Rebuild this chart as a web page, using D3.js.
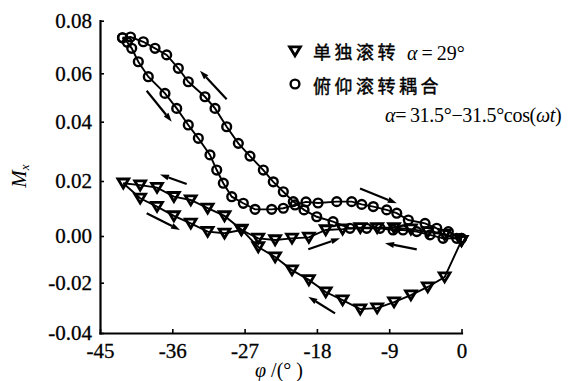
<!DOCTYPE html>
<html>
<head>
<meta charset="utf-8">
<script src="https://cdn.jsdelivr.net/npm/d3@7"></script>
<style>
  html, body { margin: 0; padding: 0; background: #fff; }
  svg { display: block; }
  .serif { font-family: "Liberation Serif", "DejaVu Serif", serif; }
  .cjk { font-family: "Noto Sans CJK SC", sans-serif; }
</style>
</head>
<body>
<svg id="chart" width="579" height="381"></svg>
<script>
// tick values
const xTicks = [-45, -36, -27, -18, -9, 0];
const yTicks = [-0.04, -0.02, 0, 0.02, 0.04, 0.06, 0.08];

// single roll, alpha = 29 deg (triangles): same phi grid, two branches of the loop
const rollPhi   = [-42.1, -40.0, -37.9, -35.8, -33.7, -31.6, -29.5, -27.4, -25.3, -23.2, -21.1,
                   -19.0, -16.9, -14.8, -12.6, -10.5, -8.4, -6.3, -4.2, -2.1, 0];
const rollUpper = [0.0192, 0.0185, 0.0176, 0.0143, 0.0131, 0.0101, 0.0073, 0.0024, -0.0047, -0.0090, -0.0146,
                   -0.0188, -0.0237, -0.0269, -0.0305, -0.0301, -0.0277, -0.0249, -0.0217, -0.0176, -0.0020];
const rollLower = [0.0192, 0.0137, 0.0107, 0.0073, 0.0046, 0.0016, 0.0010, 0.0022, -0.0010, -0.0017, -0.0010,
                   -0.0006, 0.0022, 0.0025, 0.0030, 0.0030, 0.0030, 0.0025, 0.0015, 0.0005, -0.0020];

// pitch-roll coupled (circles): descending branch (left curve, then upper flat row)
const coupledDownPhi = [-42.2, -41.6, -41.05, -40.23, -38.99, -36.91, -35.45, -34.01, -32.76, -31.31, -30.47,
                        -29.65, -28.6, -27.16, -25.7, -23.63, -22.18, -20.72, -19.36, -17.86, -15.53,
                        -13.67, -12.42, -10.98, -9.31, -8.06, -6.62, -4.54, -3.08, -1.64, 0];
const coupledDownMx  = [0.0735, 0.0718, 0.0695, 0.0644, 0.0586, 0.0517, 0.0455, 0.0389, 0.0344, 0.0288, 0.0237,
                        0.0192, 0.0143, 0.0119, 0.0097, 0.0097, 0.0101, 0.0113, 0.0124, 0.0120, 0.0125,
                        0.0125, 0.0115, 0.0107, 0.0095, 0.0083, 0.0058, 0.0046, 0.0028, 0.0016, -0.0010];
// returning branch (right curve, then lower flat row)
const coupledUpPhi = [-42.2, -41.2, -39.61, -38.15, -36.7, -35.25, -34.01, -31.93, -30.68, -29.23, -27.78,
                      -26.33, -24.67, -23.43, -22.18, -20.94, -19.6, -18.02, -15.99, -13.88, -11.8,
                      -10.14, -8.52, -7.28, -5.57, -3.92, -2.3, -0.6, 0];
const coupledUpMx  = [0.0735, 0.0738, 0.0720, 0.0695, 0.0670, 0.0619, 0.0565, 0.0503, 0.0455, 0.0383, 0.0327,
                      0.0284, 0.0237, 0.0197, 0.0161, 0.0125, 0.0095, 0.0070, 0.0052, 0.0028, 0.0028,
                      0.0028, 0.0022, 0.0022, 0.0016, 0.0004, -0.0010, -0.0010, -0.0010];

// direction arrows: [phi tail, Mx tail, phi tip, Mx tip]
const arrows = [
  [-39.19, 0.0528, -36.07, 0.0400],
  [-29.23, 0.0493, -32.55, 0.0610],
  [-34.21, 0.0189, -37.53, 0.0222],
  [-39.19, 0.0083, -35.04, 0.0022],
  [-15.74, -0.0322, -19.07, -0.0256],
  [-5.57, -0.0057, -9.52, -0.0031],
  [-19.07, -0.0057, -15.12, -0.0010],
  [-12.63, 0.0173, -8.06, 0.0119]
];

const svg = d3.select("#chart");

const x = d3.scaleLinear().domain([-45, 0]).range([100, 461.5]);
// the scanned axis is slightly uneven, so map each tick to where it sits
const y = d3.scaleLinear().domain(yTicks).range([333, 282.7, 236, 181, 121.7, 73.3, 20.7]);

const zip = (xs, ys) => xs.map((v, i) => [v, ys[i]]);
const line = d3.line().x(d => x(d[0])).y(d => y(d[1]));

const rollA = zip(rollPhi, rollUpper);
const rollB = zip(rollPhi, rollLower);
const coupA = zip(coupledDownPhi, coupledDownMx);
const coupB = zip(coupledUpPhi, coupledUpMx);

const plot = svg.append("g");

[rollA, rollB, coupA, coupB].forEach(s => {
  plot.append("path")
    .attr("d", line(s))
    .attr("fill", "none")
    .attr("stroke", "#000")
    .attr("stroke-width", 1.9);
});

const triPath = "M0,4.8L-5.4,-4.2L5.4,-4.2Z";

function drawTriangles(data) {
  plot.selectAll(null)
    .data(data)
    .enter()
    .append("path")
    .attr("d", triPath)
    .attr("transform", d => `translate(${x(d[0])},${y(d[1])})`)
    .attr("fill", "none")
    .attr("stroke", "#000")
    .attr("stroke-width", 2.8);
}

function drawCircles(data) {
  plot.selectAll(null)
    .data(data)
    .enter()
    .append("circle")
    .attr("cx", d => x(d[0]))
    .attr("cy", d => y(d[1]))
    .attr("r", 4.4)
    .attr("fill", "none")
    .attr("stroke", "#000")
    .attr("stroke-width", 2.4);
}

drawCircles(coupA);
drawCircles(coupB);
drawTriangles(rollA);
drawTriangles(rollB.slice(1));

// arrows
arrows.forEach(a => {
  const x0 = x(a[0]), y0 = y(a[1]), x1 = x(a[2]), y1 = y(a[3]);
  const ang = Math.atan2(y1 - y0, x1 - x0);
  const len = 9, hw = 3;
  const bx = x1 - len * Math.cos(ang), by = y1 - len * Math.sin(ang);
  plot.append("line")
    .attr("x1", x0).attr("y1", y0).attr("x2", bx).attr("y2", by)
    .attr("stroke", "#000").attr("stroke-width", 2.2);
  plot.append("path")
    .attr("d", `M${x1},${y1}L${bx + hw * Math.sin(ang)},${by - hw * Math.cos(ang)}L${bx - hw * Math.sin(ang)},${by + hw * Math.cos(ang)}Z`)
    .attr("fill", "#000");
});

// axes
const fmt = d => d.toFixed(2);

const gy = svg.append("g")
  .attr("transform", "translate(100,0)")
  .call(d3.axisLeft(y).tickValues(yTicks).tickSizeInner(-4).tickSizeOuter(0).tickPadding(8).tickFormat(fmt));

const gx = svg.append("g")
  .attr("transform", "translate(0,333)")
  .call(d3.axisBottom(x).tickValues(xTicks).tickSizeInner(-4).tickSizeOuter(0).tickPadding(10).tickFormat(d => d));

[gx, gy].forEach(g => {
  g.select(".domain").attr("stroke-width", 2.2).attr("stroke-linecap", "square");
  g.selectAll(".tick line").attr("stroke-width", 1.6);
  g.selectAll(".tick text")
    .attr("class", "serif")
    .attr("font-size", 21)
    .attr("fill", "#000")
    .attr("stroke", "#000")
    .attr("stroke-width", 0.3);
});

// axis titles
const yt = svg.append("text")
  .attr("class", "serif")
  .attr("transform", "translate(26,176) rotate(-90)")
  .attr("text-anchor", "middle")
  .attr("font-size", 21)
  .attr("font-style", "italic");
yt.append("tspan").text("M");
yt.append("tspan").attr("font-size", 13).attr("dy", 3).text("x");

const xt = svg.append("text")
  .attr("class", "serif")
  .attr("x", 279).attr("y", 377)
  .attr("text-anchor", "middle")
  .attr("font-size", 20);
xt.append("tspan").attr("font-style", "italic").text("φ");
xt.append("tspan").text(" /(° )");

// legend
const leg = svg.append("g");
leg.append("path")
  .attr("d", triPath)
  .attr("transform", "translate(295,51)")
  .attr("fill", "none").attr("stroke", "#000").attr("stroke-width", 2.8);
leg.append("circle")
  .attr("cx", 295).attr("cy", 84).attr("r", 4.4)
  .attr("fill", "none").attr("stroke", "#000").attr("stroke-width", 2.4);

leg.append("text").attr("class", "cjk")
  .attr("x", 313).attr("y", 59)
  .attr("font-size", 18).attr("letter-spacing", 3.5)
  .attr("stroke", "#000").attr("stroke-width", 0.4)
  .text("单独滚转");

const l1 = leg.append("text").attr("class", "serif")
  .attr("x", 407).attr("y", 60).attr("font-size", 20);
l1.append("tspan").attr("font-style", "italic").text("α");
l1.append("tspan").text("\u2009=\u200929°");

leg.append("text").attr("class", "cjk")
  .attr("x", 313).attr("y", 93)
  .attr("font-size", 18).attr("letter-spacing", 3.5)
  .attr("stroke", "#000").attr("stroke-width", 0.4)
  .text("俯仰滚转耦合");

const l3 = leg.append("text").attr("class", "serif")
  .attr("x", 385).attr("y", 122).attr("font-size", 20)
  .attr("letter-spacing", -0.3);
l3.append("tspan").attr("font-style", "italic").text("α");
l3.append("tspan").text("=\u200931.5°−31.5°cos(");
l3.append("tspan").attr("font-style", "italic").text("ωt");
l3.append("tspan").text(")");
</script>
</body>
</html>
